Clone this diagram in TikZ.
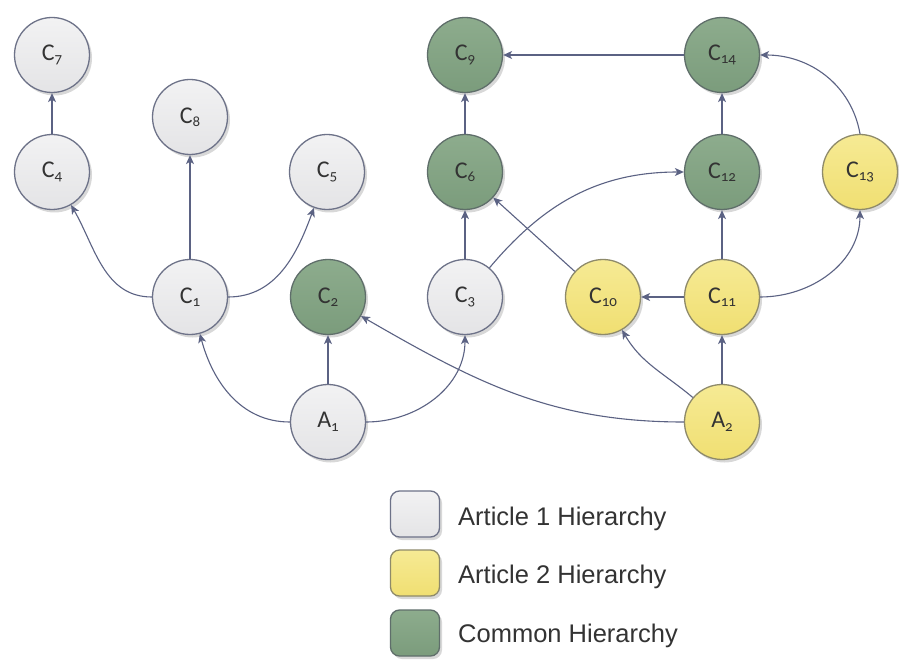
\documentclass[tikz,border=0pt]{standalone}
\usepackage{fontspec}
\setmainfont{Carlito}
\newfontfamily\subfont[Numbers=OldStyle]{Carlito}
\newfontfamily\legendfont{Liberation Sans}
\usetikzlibrary{arrows.meta,shadows}

\definecolor{edgecol}{HTML}{5B6283}
\definecolor{rimcol}{HTML}{6D7288}
\definecolor{greyfill}{HTML}{E4E4E6}
\definecolor{greytop}{HTML}{F2F2F3}
\definecolor{greenfill}{HTML}{7B9C7C}
\definecolor{greentop}{HTML}{8DAC8D}
\definecolor{yellowfill}{HTML}{F0DF72}
\definecolor{yellowtop}{HTML}{F6EA94}
\definecolor{rimyellow}{HTML}{8E8A6A}
\definecolor{rimgreen}{HTML}{5F6E6A}

\newcommand{\lbl}[2]{#1\raisebox{-0.3ex}{\subfont\fontsize{15}{15}\selectfont #2}}

\tikzset{
  concept/.style={circle, minimum size=75pt, inner sep=0pt, line width=1.3pt,
    font=\fontsize{24}{24}\selectfont, text=black!80,
    drop shadow={shadow xshift=2.5pt, shadow yshift=-3pt, opacity=0.25, fill=black!60}},
  artone/.style={concept, draw=rimcol, top color=greytop, bottom color=greyfill},
  arttwo/.style={concept, draw=rimyellow, top color=yellowtop, bottom color=yellowfill},
  common/.style={concept, draw=rimgreen, top color=greentop, bottom color=greenfill},
  key/.style={rounded corners=9pt, minimum width=49pt, minimum height=46pt, inner sep=0pt,
    line width=1.3pt,
    drop shadow={shadow xshift=2.5pt, shadow yshift=-3pt, opacity=0.25, fill=black!60}},
  keytext/.style={anchor=west, font=\legendfont\fontsize{25.5}{25.5}\selectfont, text=black!80, inner sep=0pt},
  link/.style={draw=edgecol, line width=1.1pt, -{Stealth[length=9pt,width=8pt,inset=2.5pt]}},
}

\begin{document}
\begin{tikzpicture}[x=1pt,y=-1pt]
  \useasboundingbox[fill=white] (0,0) rectangle (899,660);

  % Article 1 hierarchy
  \node[artone] (c7) at (52,55)  {\lbl{C}{7}};
  \node[artone] (c4) at (52,172) {\lbl{C}{4}};
  \node[artone] (c8) at (190,117) {\lbl{C}{8}};
  \node[artone] (c5) at (327,172) {\lbl{C}{5}};
  \node[artone] (c1) at (190,297) {\lbl{C}{1}};
  \node[artone] (c3) at (465,297) {\lbl{C}{3}};
  \node[artone] (a1) at (328,422) {\lbl{A}{1}};

  % Common hierarchy
  \node[common] (c9)  at (465,55)  {\lbl{C}{9}};
  \node[common] (c6)  at (465,172) {\lbl{C}{6}};
  \node[common] (c14) at (722,55)  {\lbl{C}{14}};
  \node[common] (c12) at (722,172) {\lbl{C}{12}};
  \node[common] (c2)  at (328,297) {\lbl{C}{2}};

  % Article 2 hierarchy
  \node[arttwo] (c13) at (860,172) {\lbl{C}{13}};
  \node[arttwo] (c10) at (603,297) {\lbl{C}{10}};
  \node[arttwo] (c11) at (722,297) {\lbl{C}{11}};
  \node[arttwo] (a2)  at (722,422) {\lbl{A}{2}};

  % straight links
  \draw[link] (c4) -- (c7);
  \draw[link] (c1) -- (c8);
  \draw[link] (a1) -- (c2);
  \draw[link] (c3) -- (c6);
  \draw[link] (c6) -- (c9);
  \draw[link] (c14) -- (c9);
  \draw[link] (c12) -- (c14);
  \draw[link] (c11) -- (c12);
  \draw[link] (c11) -- (c10);
  \draw[link] (a2) -- (c11);
  \draw[link] (c10) -- (c6);

  % curved links
  \draw[link] (c1.west) to[out=180,in=-60] (c4);
  \draw[link] (c1.east) to[out=0,in=-110] (c5);
  \draw[link] (a1.west) to[out=180,in=-75] (c1);
  \draw[link] (a1.east) to[out=0,in=-90] (c3.south);
  \draw[link] (a2.west) to[out=180,in=-30] (c2);
  \draw[link] (c3) to[out=50,in=180] (c12.west);
  \draw[link] (c11.east) to[out=0,in=-90] (c13.south);
  \draw[link] (a2) to[out=140,in=-60] (c10);
  \draw[link] (c13.north) to[out=100,in=0] (c14.east);

  % key
  \node[key, draw=rimcol, top color=greytop, bottom color=greyfill] (k1) at (415,514) {};
  \node[key, draw=rimyellow, top color=yellowtop, bottom color=yellowfill] (k2) at (415,573) {};
  \node[key, draw=rimgreen, top color=greentop, bottom color=greenfill] (k3) at (415,633) {};
  \node[keytext] (t1) at (458,519) {Article 1 Hierarchy};
  \node[keytext] (t2) at (458,577) {Article 2 Hierarchy};
  \node[keytext] (t3) at (458,636) {Common Hierarchy};
\end{tikzpicture}
\end{document}
